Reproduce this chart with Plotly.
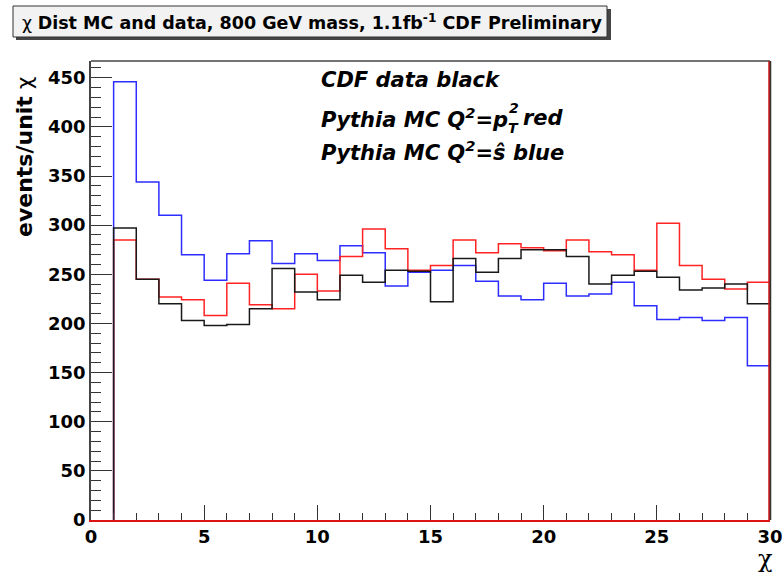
import numpy as np
import plotly.graph_objects as go

# chi distribution, 1-unit bins from chi = 1 to chi = 30
bin_edges = list(range(1, 31))
cdf_data = [297, 245, 220, 203, 198, 199, 215, 256, 232, 224, 249, 242, 254, 253, 222,
            266, 252, 266, 275, 275, 268, 240, 249, 253, 247, 234, 236, 240, 220]
pythia_pt2 = [285, 245, 227, 224, 208, 241, 219, 215, 250, 233, 268, 296, 276, 254, 259,
              285, 272, 281, 277, 274, 285, 273, 270, 254, 302, 259, 245, 235, 242]
pythia_shat = [446, 344, 310, 270, 244, 271, 284, 261, 271, 264, 279, 272, 238, 252, 254,
               259, 243, 228, 224, 241, 228, 230, 242, 218, 204, 206, 203, 206, 157]
x_ticks = [0, 5, 10, 15, 20, 25, 30]
y_ticks = [0, 50, 100, 150, 200, 250, 300, 350, 400, 450]

W, H = 782, 577
L, R, T, B = 91, 12, 61, 57
PW, PH = W - L - R, H - T - B


def px(x):
    return (x - L) / PW


def py(y):
    return (H - B - y) / PH


def step_xy(edges, vals):
    # closed histogram outline: rise from zero at the first edge, drop to zero at the last
    xs = [edges[0]] + edges[:-1] + [edges[-1], edges[-1]]
    ys = [0] + vals + [vals[-1], 0]
    return xs, ys


fig = go.Figure()
for vals, col in [(pythia_shat, "rgb(45,45,255)"),
                  (pythia_pt2, "rgb(255,35,35)"),
                  (cdf_data, "rgb(25,25,25)")]:
    xs, ys = step_xy(bin_edges, vals)
    fig.add_trace(go.Scatter(x=xs, y=ys, mode="lines", line=dict(color=col, width=1.5, shape="hv"),
                             showlegend=False, hoverinfo="skip"))

ymax = 467
tickfont = dict(family="DejaVu Sans", size=18, color="black", weight="bold")
fig.update_xaxes(range=[0, 30], tickmode="array", tickvals=x_ticks,
                 ticktext=[str(v) for v in x_ticks], ticks="inside", ticklen=15,
                 tickwidth=1.2, tickcolor="#333", tickfont=tickfont, ticklabeloverflow="allow",
                 automargin=False,
                 minor=dict(tickmode="linear", tick0=0, dtick=1, ticks="inside", ticklen=7,
                            tickwidth=1.2, tickcolor="#333"),
                 showgrid=False, zeroline=False, showline=True, linecolor="rgb(220,20,20)",
                 linewidth=1.5)
fig.update_yaxes(range=[0, ymax], tickmode="array", tickvals=y_ticks,
                 ticktext=[str(v) for v in y_ticks], ticks="inside", ticklen=21,
                 tickwidth=1.2, tickcolor="#333", tickfont=tickfont, automargin=False,
                 minor=dict(tickmode="linear", tick0=0, dtick=10, ticks="inside", ticklen=10,
                            tickwidth=1.2, tickcolor="#333"),
                 showgrid=False, zeroline=False, showline=True, linecolor="#444", linewidth=1.5)

shapes = [
    # frame top and right edge
    dict(type="line", xref="paper", yref="paper", x0=0, x1=1, y0=1, y1=1,
         line=dict(color="#444", width=1.5)),
    dict(type="line", xref="paper", yref="paper", x0=1, x1=1, y0=0, y1=1,
         line=dict(color="#333", width=2.5)),
    dict(type="line", xref="paper", yref="paper", x0=0.9985, x1=0.9985, y0=0, y1=1,
         line=dict(color="rgb(230,20,20)", width=1.3)),
    # title box with drop shadow
    dict(type="rect", xref="paper", yref="paper", x0=px(16), x1=px(611), y0=py(40), y1=py(9),
         fillcolor="#444", line=dict(width=0), layer="above"),
    dict(type="rect", xref="paper", yref="paper", x0=px(13), x1=px(607), y0=py(37), y1=py(6),
         fillcolor="rgb(242,242,242)", line=dict(color="#333", width=1), layer="above"),
]

annos = [
    dict(text="χ <b>Dist MC and data, 800 GeV mass, 1.1fb<sup>-1</sup> CDF Preliminary</b>",
         x=px(312), y=py(21.5), xanchor="center", yanchor="middle",
         font=dict(family="DejaVu Sans", size=17.5, color="black")),
    dict(text="<b>events/unit</b> χ", textangle=-90, x=px(24), y=py(157),
         xanchor="center", yanchor="middle", font=dict(family="DejaVu Sans", size=22, color="black")),
    dict(text="χ", x=px(765), y=py(559), xanchor="center", yanchor="middle",
         font=dict(family="DejaVu Serif", size=24, color="black")),
    dict(text="<b><i>CDF data black</i></b>", x=px(319), y=py(80), xanchor="left", yanchor="middle",
         font=dict(family="DejaVu Sans", size=21, color="black")),
    dict(text="<b><i>Pythia MC Q<sup>2</sup>=p</i></b>", x=px(319), y=py(118), xanchor="left",
         yanchor="middle", font=dict(family="DejaVu Sans", size=21, color="black")),
    dict(text="<b><i>2</i></b>", x=px(514), y=py(108), xanchor="center", yanchor="middle",
         font=dict(family="DejaVu Sans", size=14, color="black")),
    dict(text="<b><i>T</i></b>", x=px(513), y=py(128), xanchor="center", yanchor="middle",
         font=dict(family="DejaVu Sans", size=14, color="black")),
    dict(text="<b><i>red</i></b>", x=px(521), y=py(118), xanchor="left", yanchor="middle",
         font=dict(family="DejaVu Sans", size=21, color="black")),
    dict(text="<b><i>Pythia MC Q<sup>2</sup>=ŝ blue</i></b>", x=px(319), y=py(151), xanchor="left",
         yanchor="middle", font=dict(family="DejaVu Sans", size=21, color="black")),
]
for a in annos:
    a.update(xref="paper", yref="paper", showarrow=False)

fig.update_layout(width=W, height=H, margin=dict(l=L, r=R, t=T, b=B, autoexpand=False),
                  paper_bgcolor="white", plot_bgcolor="white",
                  shapes=shapes, annotations=annos)

fig.write_html("out.html")
